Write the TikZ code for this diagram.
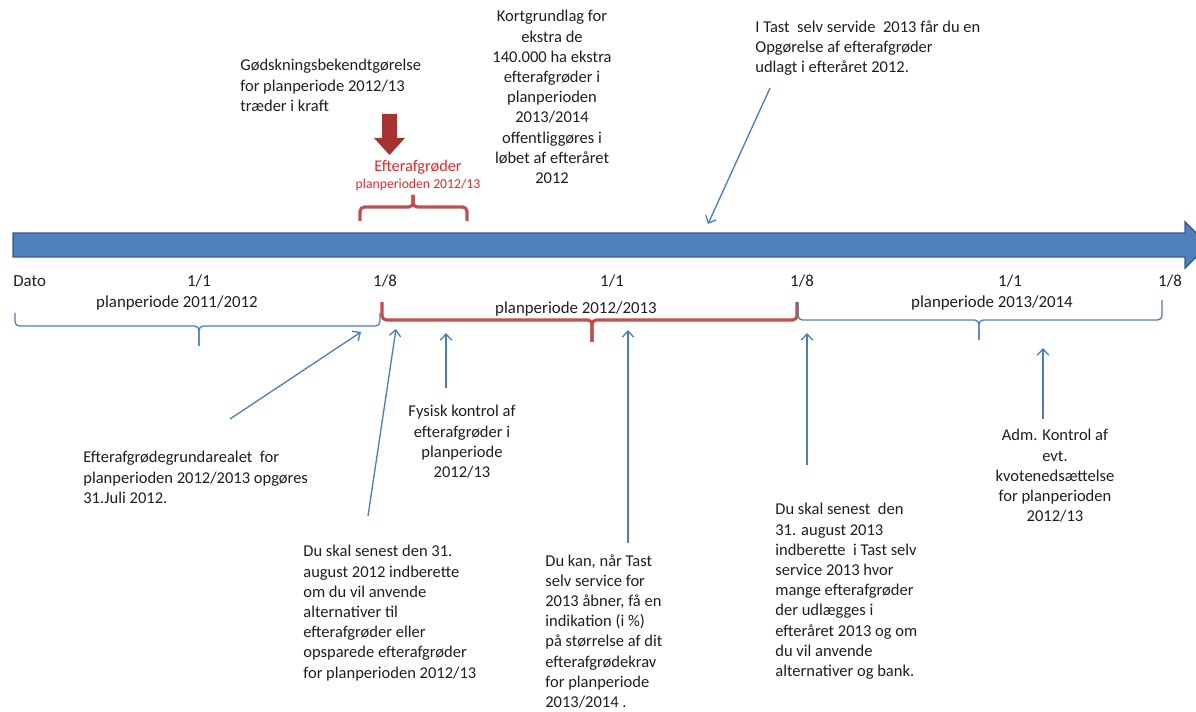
\documentclass[tikz,border=0pt]{standalone}
\usepackage{fontspec}
\setmainfont{Carlito}
\usetikzlibrary{arrows.meta,positioning}

\definecolor{barblue}{RGB}{79,129,189}
\definecolor{baredge}{RGB}{56,93,138}
\definecolor{lineblue}{RGB}{74,126,187}
\definecolor{bracered}{RGB}{192,80,77}
\definecolor{blockred}{RGB}{165,52,48}
\definecolor{redtext}{RGB}{232,38,38}
\definecolor{textgray}{RGB}{30,30,30}

\begin{document}
\begin{tikzpicture}[x=0.02cm, y=-0.02cm,
    txt/.style={font=\fontsize{9.4}{11.5}\selectfont, text=textgray, inner sep=0pt, align=left, anchor=north west},
    ctxt/.style={txt, align=center, anchor=north},
    datelbl/.style={font=\fontsize{9.6}{11.5}\selectfont, text=textgray, inner sep=0pt, anchor=base},
    pil/.style={draw=lineblue, line width=0.75pt, -{Straight Barb[length=3.5pt,width=6.5pt]}},
    bluebrace/.style={draw=lineblue, line width=0.75pt, rounded corners=2.5pt},
    redbrace/.style={draw=bracered, line width=1.8pt, rounded corners=2.5pt}]
\useasboundingbox (0,0) rectangle (1196,712);
\clip (0,0) rectangle (1196,712);

% time line
\filldraw[fill=barblue, draw=baredge, line width=0.8pt]
    (13,233) -- (1185,233) -- (1185,222) -- (1208,245) -- (1185,268) -- (1185,257) -- (13,257) -- cycle;

% dates
\node[datelbl, anchor=base west] (dato) at (13,287) {Dato};
\node[datelbl] (jan11) at (199,287) {1/1};
\node[datelbl] (aug12) at (385,287) {1/8};
\node[datelbl] (jan13) at (612,287) {1/1};
\node[datelbl] (aug13) at (802,287) {1/8};
\node[datelbl] (jan14) at (1010,287) {1/1};
\node[datelbl] (aug14) at (1170,287) {1/8};

% periods
\draw[bluebrace] (15,313) |- (199,326) -- (199,346);
\draw[bluebrace] (380,313) |- (199,326) -- (199,346);
\node[datelbl] (per11) at (177,308) {planperiode 2011/2012};

\draw[redbrace] (382,302) |- (592,320) -- (592,342);
\draw[redbrace] (797,302) |- (592,320) -- (592,342);
\node[datelbl] (per12) at (576,314) {planperiode 2012/2013};

\draw[bluebrace] (798,302) |- (979,320) -- (979,340);
\draw[bluebrace] (1162,300) |- (979,320) -- (979,340);
\node[datelbl] (per13) at (992,308) {planperiode 2013/2014};

% catch crops above the line
\draw[redbrace] (360,221) |- (413,207) -- (413,195);
\draw[redbrace] (467,221) |- (413,207) -- (413,195);
\node[datelbl, text=redtext, font=\fontsize{9.3}{11}\selectfont] (efter) at (418,172) {Efterafgrøder};
\node[datelbl, text=redtext, font=\fontsize{7.8}{9}\selectfont] (efterper) at (418,189) {planperioden 2012/13};
\fill[blockred] (382,114) -- (397,114) -- (397,138) -- (405,138) -- (389.5,155) -- (374,138) -- (382,138) -- cycle;

% texts above
\node[txt] (godsk) at (240,59) {Gødskningsbekendtgørelse\\for planperiode 2012/13\\træder i kraft};
\node[ctxt] (kort) at (552,10) {Kortgrundlag for\\ekstra de\\140.000 ha ekstra\\efterafgrøder i\\planperioden\\2013/2014\\offentliggøres i\\løbet af efteråret\\2012};
\node[txt] (tast) at (755,20) {I Tast\ \ selv servide\ \ 2013 får du en\\Opgørelse af efterafgrøder\\udlagt i efteråret 2012.};

% texts below
\node[txt] (grund) at (83,451) {Efterafgrødegrundarealet\ \ for\\planperioden 2012/2013 opgøres\\31.Juli 2012.};
\node[ctxt] (fysisk) at (462,405) {Fysisk kontrol af\\efterafgrøder i\\planperiode\\2012/13};
\node[txt] (senest12) at (303,545) {Du skal senest den 31.\\august 2012 indberette\\om du vil anvende\\alternativer til\\efterafgrøder eller\\opsparede efterafgrøder\\for planperioden 2012/13};
\node[txt] (kan) at (545,554) {Du kan, når Tast\\selv service for\\2013 åbner, få en\\indikation (i \%)\\på størrelse af dit\\efterafgrødekrav\\for planperiode\\2013/2014 .};
\node[txt] (senest13) at (775,503) {Du skal senest\ \ den\\31. august 2013\\indberette\ \ i Tast selv\\service 2013 hvor\\mange efterafgrøder\\der udlægges i\\efteråret 2013 og om\\du vil anvende\\alternativer og bank.};
\node[ctxt] (adm) at (1055,429) {Adm. Kontrol af\\evt.\\kvotenedsættelse\\for planperioden\\2012/13};

% arrows
\coordinate (tastfod) at (770,88);
\coordinate (tastspids) at (708,224);
\coordinate (grundfod) at (230,419);
\coordinate (grundspids) at (361,332);
\coordinate (senest12fod) at (368,516);
\coordinate (senest12spids) at (396,329);
\coordinate (fysiskfod) at (446,388);
\coordinate (fysiskspids) at (446,333);
\coordinate (kanfod) at (628,543);
\coordinate (kanspids) at (628,330);
\coordinate (senest13fod) at (807,465);
\coordinate (senest13spids) at (807,333);
\coordinate (admfod) at (1043,419);
\coordinate (admspids) at (1043,348);
\draw[pil] (tastfod) -- (tastspids);
\draw[pil] (grundfod) -- (grundspids);
\draw[pil] (senest12fod) -- (senest12spids);
\draw[pil] (fysiskfod) -- (fysiskspids);
\draw[pil] (kanfod) -- (kanspids);
\draw[pil] (senest13fod) -- (senest13spids);
\draw[pil] (admfod) -- (admspids);
\end{tikzpicture}
\end{document}
